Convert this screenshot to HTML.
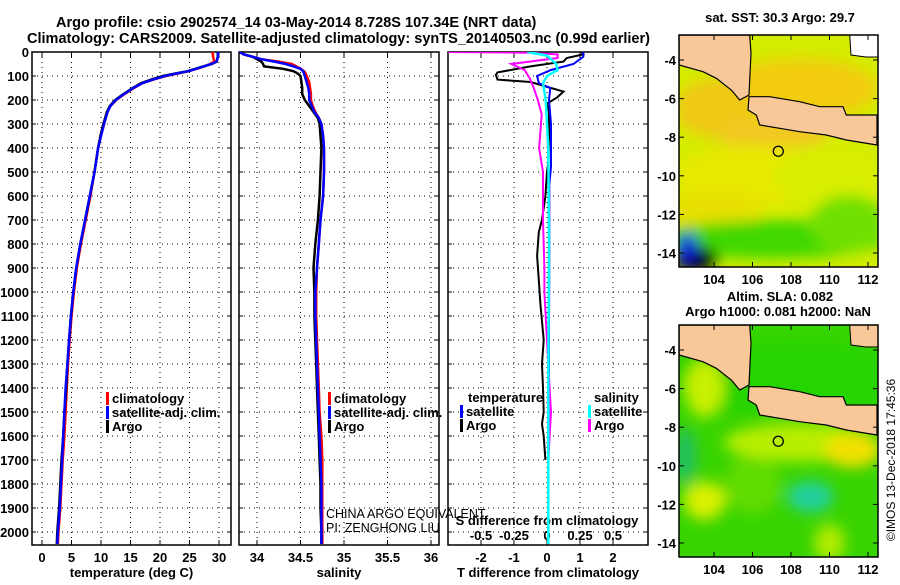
<!DOCTYPE html>
<html><head><meta charset="utf-8">
<style>
html,body{margin:0;padding:0;background:#fff;}
body{width:900px;height:580px;overflow:hidden;font-family:"Liberation Sans",sans-serif;}
svg text{font-family:"Liberation Sans",sans-serif;}
.b{font-weight:bold;}
</style></head>
<body>
<svg id="fig" width="900" height="580" viewBox="0 0 900 580" xmlns="http://www.w3.org/2000/svg">
<defs>
 <filter id="blur1" x="-50%" y="-50%" width="200%" height="200%"><feGaussianBlur stdDeviation="7"/></filter>
 <filter id="blur2" x="-50%" y="-50%" width="200%" height="200%"><feGaussianBlur stdDeviation="10"/></filter>
 <clipPath id="cm1"><rect x="679" y="35" width="199" height="232"/></clipPath>
 <clipPath id="cm2"><rect x="679" y="325" width="199" height="232"/></clipPath>
 <clipPath id="cp1"><rect x="32" y="52" width="199" height="493"/></clipPath>
 <clipPath id="cp2"><rect x="239" y="52" width="200" height="493"/></clipPath>
 <clipPath id="cp3"><rect x="448" y="52" width="200" height="493"/></clipPath>
</defs>
<text class="b" x="56" y="27" font-size="14.5">Argo profile: csio 2902574_14 03-May-2014 8.728S 107.34E (NRT data)</text>
<text class="b" x="27" y="43" font-size="14.5" textLength="623">Climatology: CARS2009. Satellite-adjusted climatology: synTS_20140503.nc (0.99d earlier)</text>
<g id="g1"></g><g id="g2"></g><g id="g3"></g><g id="maps"></g>
</svg>
<script>
// ---------- data ----------
const depthTicks = [0,100,200,300,400,500,600,700,800,900,1000,1100,1200,1300,1400,1500,1600,1700,1800,1900,2000];
const tempTicks = [0,5,10,15,20,25,30];
const salTicks = [34,34.5,35,35.5,36];
const salTickLabels = ["34","34.5","35","35.5","36"];
const tdiffTicks = [-2,-1,0,1,2];
const sdiffTicks = [-0.5,-0.25,0,0.25,0.5];
const sdiffTickLabels = ["-0.5","-0.25","0","0.25","0.5"];

const tempDepth = [0,20,40,50,60,70,80,90,100,115,130,150,175,200,225,250,300,350,400,500,600,700,800,900,1000,1100,1200,1300,1400,1500,1600,1700,1800,1900,2000,2050];
const tempArgo = [29.8,29.8,29.6,28.8,27.3,26,24.7,22.5,20.5,18.5,16.8,15.4,13.8,12.4,11.5,11,10.4,9.9,9.5,8.9,8.1,7.3,6.5,5.8,5.3,4.9,4.6,4.3,4.1,3.8,3.6,3.3,3.1,2.9,2.6,2.5];
const tempClim = [28.9,29,29.2,28.5,27.5,26.2,24.9,22.9,21,18.9,17,15.6,14,12.6,11.6,11.1,10.5,10,9.5,8.9,8.2,7.4,6.6,5.9,5.4,5,4.7,4.4,4.2,4,3.8,3.5,3.3,3.1,2.8,2.7];
const tempSat = [29.9,29.8,29.6,28.7,27.4,26.1,24.8,22.7,20.8,18.8,17,15.5,13.9,12.5,11.6,11.1,10.5,10,9.5,8.9,8.1,7.3,6.5,5.8,5.3,4.9,4.6,4.3,4,3.8,3.6,3.4,3.2,3,2.7,2.6];

const salDepth = [0,10,20,30,40,50,60,70,80,90,100,125,150,175,200,225,250,275,300,350,400,500,600,700,800,900,1000,1100,1200,1300,1400,1500,1600,1700,1800,1900,2000,2050];
const salArgo = [33.8,33.85,33.95,34.0,34.05,34.07,34.08,34.3,34.42,34.47,34.5,34.51,34.52,34.52,34.55,34.6,34.65,34.7,34.72,34.73,34.74,34.73,34.72,34.70,34.67,34.65,34.66,34.66,34.67,34.68,34.69,34.70,34.71,34.72,34.73,34.73,34.74,34.74];
const salClim = [33.8,33.85,33.95,34.05,34.25,34.4,34.45,34.5,34.54,34.56,34.57,34.6,34.61,34.62,34.62,34.64,34.67,34.71,34.74,34.76,34.77,34.77,34.76,34.73,34.71,34.69,34.68,34.68,34.69,34.7,34.71,34.72,34.74,34.75,34.75,34.75,34.75,34.75];
const salSat = [33.8,33.85,33.95,34.05,34.2,34.33,34.42,34.5,34.53,34.54,34.55,34.57,34.59,34.6,34.6,34.63,34.66,34.71,34.74,34.76,34.77,34.77,34.76,34.73,34.71,34.69,34.67,34.67,34.68,34.69,34.7,34.71,34.72,34.73,34.74,34.74,34.74,34.74];

const tArgoDiffDepth = [0,10,25,40,60,85,95,115,125,165,190,215,250,350,450,500,600,700,750,850,950,1050,1200,1300,1400,1500,1550,1600,1700];
const tArgoDiff = [1.05,1.1,0.6,0.5,-0.5,-1.5,-1.55,-1.5,-0.5,0.5,0.3,0,0.06,0.06,0.05,0,-0.05,-0.15,-0.25,-0.3,-0.25,-0.2,-0.1,-0.15,-0.12,-0.1,-0.15,-0.1,-0.05];
const tSatDiffDepth = [0,20,50,75,100,130,150,200,300,480,550,800,1200,1700];
const tSatDiff = [1.1,1.1,0.8,0.12,-0.3,-0.25,0.1,0.06,0.12,0.12,0.07,0.07,0.06,0.05];
const sArgoDiffDepth = [0,3,10,25,50,75,110,150,200,260,400,500,700,900,1000,1200,1400,1500,1600,1700];
const sArgoDiff = [-0.75,-0.14,0.08,0.08,-0.27,-0.17,-0.13,-0.1,-0.07,-0.04,-0.06,-0.03,-0.03,-0.02,-0.02,0,0.02,0.03,0.02,0.01];
const sSatDiffDepth = [0,15,50,75,100,130,200,400,800,1400,2050];
const sSatDiff = [-0.15,0,0.07,0.08,0,-0.03,-0.01,0.01,0.015,0.01,0.01];

const mapLonTicks = [104,106,108,110,112];
const mapLatTicks = [-4,-6,-8,-10,-12,-14];
const argoLon = 107.34, argoLat = -8.728;

// ---------- helpers ----------
const NS = "http://www.w3.org/2000/svg";
function mk(tag, attrs, parent){ const e=document.createElementNS(NS,tag); for(const k in attrs) e.setAttribute(k,attrs[k]); parent.appendChild(e); return e; }
function txt(s, x, y, size, anchor, parent, bold){ const t=mk('text',{x:x,y:y,'font-size':size,'text-anchor':anchor||'start'},parent); if(bold!==false) t.setAttribute('font-weight','bold'); t.textContent=s; return t; }
const TOP=52, BOT=545;
function yD(d){ return TOP + d*0.24; }

function panel(g, x0, x1, xScale, ticks, labels, title, clipId, name){
  // grid
  depthTicks.forEach(d=>{ if(d===0) return;
    const l=mk('line',{x1:x0,x2:x1,y1:yD(d),y2:yD(d),stroke:'#000','stroke-width':1,'stroke-dasharray':'1,4'},g);
     
    mk('line',{x1:x0,x2:x0+4,y1:yD(d),y2:yD(d),stroke:'#000'},g);
    mk('line',{x1:x1-4,x2:x1,y1:yD(d),y2:yD(d),stroke:'#000'},g);
  });
  ticks.forEach((v,i)=>{ const x=xScale(v);
    const l=mk('line',{x1:x,x2:x,y1:TOP,y2:BOT,stroke:'#000','stroke-width':1,'stroke-dasharray':'1,4'},g);
     
    mk('line',{x1:x,x2:x,y1:BOT-5,y2:BOT,stroke:'#000'},g);
    mk('line',{x1:x,x2:x,y1:TOP,y2:TOP+5,stroke:'#000'},g);
    if(labels){ const t=txt(labels[i],x,562,13,'middle',g);
        }
  });
  const r=mk('rect',{x:x0,y:TOP,width:x1-x0,height:BOT-TOP,fill:'none',stroke:'#000','stroke-width':1.5},g);
   
  if(title){ const t=txt(title,(x0+x1)/2,577,13,'middle',g);
      }
}
function series(g, depths, vals, xScale, color, clipId, name, w){
  const pts=depths.map((d,i)=>xScale(vals[i]).toFixed(1)+','+yD(d).toFixed(1)).join(' ');
  const p=mk('polyline',{points:pts,fill:'none',stroke:color,'stroke-width':w||2.5,'clip-path':'url(#'+clipId+')'},g);
   
}
function legend(g, x, y, color, label, name){
  const m=mk('rect',{x:x,y:y-11,width:3,height:13,fill:color},g);
   
  const t=txt(label,x+6,y,13,'start',g);
   
}

// ---------- panel 1: temperature ----------
const g1=document.getElementById('g1');
const xT = v => 42 + v*5.9;
panel(g1,32,231,xT,tempTicks,tempTicks.map(String),'temperature (deg C)','cp1','temperature-panel');
depthTicks.forEach(d=>{ const t=txt(String(d),29,yD(d)+5,13,'end',g1);
    });
series(g1,tempDepth,tempClim,xT,'#ff0000','cp1','temperature-climatology-line');
series(g1,tempDepth,tempArgo,xT,'#000000','cp1','temperature-argo-line');
series(g1,tempDepth,tempSat,xT,'#0000ff','cp1','temperature-satellite-line');
legend(g1,106,403,'#ff0000','climatology','temp-legend-climatology');
legend(g1,106,417,'#0000ff','satellite-adj. clim.','temp-legend-satellite');
legend(g1,106,431,'#000000','Argo','temp-legend-argo');

// ---------- panel 2: salinity ----------
const g2=document.getElementById('g2');
const xS = v => 257 + (v-34)*87;
panel(g2,239,439,xS,salTicks,salTickLabels,'salinity','cp2','salinity-panel');
series(g2,salDepth,salClim,xS,'#ff0000','cp2','salinity-climatology-line');
series(g2,salDepth,salArgo,xS,'#000000','cp2','salinity-argo-line');
series(g2,salDepth,salSat,xS,'#0000ff','cp2','salinity-satellite-line');
legend(g2,328,403,'#ff0000','climatology','sal-legend-climatology');
legend(g2,328,417,'#0000ff','satellite-adj. clim.','sal-legend-satellite');
legend(g2,328,431,'#000000','Argo','sal-legend-argo');
let c1=txt('CHINA ARGO EQUIVALENT',326,518,12.5,'start',g2,false);
 
let c2=txt('PI: ZENGHONG LIU',326,532,12.5,'start',g2,false);
 

// ---------- panel 3: differences ----------
const g3=document.getElementById('g3');
const xTD = v => 547 + v*33;
const xSD = v => 547 + v*132;
panel(g3,448,648,xTD,tdiffTicks,tdiffTicks.map(String),'T difference from climatology','cp3','difference-panel');
sdiffTicks.forEach((v,i)=>{ const x=xSD(v);
  mk('line',{x1:x,x2:x,y1:BOT-5,y2:BOT,stroke:'#000'},g3);
  const t=txt(sdiffTickLabels[i],x,540,13,'middle',g3);
    });
let st=txt('S difference from climatology',547,525,13,'middle',g3);
 
series(g3,tArgoDiffDepth,tArgoDiff,xTD,'#000000','cp3','t-diff-argo-line',2);
series(g3,tSatDiffDepth,tSatDiff,xTD,'#0000ff','cp3','t-diff-satellite-line',2);
series(g3,sArgoDiffDepth,sArgoDiff,xSD,'#ff00ff','cp3','s-diff-argo-line',2);
series(g3,sSatDiffDepth,sSatDiff,xSD,'#00ffff','cp3','s-diff-satellite-line',2.5);
let lt=txt('temperature',468,402,13,'start',g3);  
legend(g3,460,416,'#0000ff','satellite','diff-legend-t-satellite');
legend(g3,460,430,'#000000','Argo','diff-legend-t-argo');
let ls=txt('salinity',594,402,13,'start',g3);  
legend(g3,588,416,'#00ffff','satellite','diff-legend-s-satellite');
legend(g3,588,430,'#ff00ff','Argo','diff-legend-s-argo');

// ---------- maps ----------
const gm=document.getElementById('maps');
const lonX = lon => 714 + (lon-104)*19.25;
const latY = (lat,off) => off + 60 + (-4-lat)*19.3;
const sumatra=[[0,0],[70.7,0],[72,18.3],[70,60],[60.7,65],[52.3,55],[37.3,43.3],[24,36.7],[0,30]];
const java=[[70,61.7],[90.7,61.7],[120.7,66.7],[140.7,71.7],[164,71.7],[167.3,80],[198,80],[198,110],[167.3,105],[147.3,100],[120.7,96.7],[100.7,93.3],[80.7,90],[77.3,80],[69,75]];
const borneo=[[170.7,0],[199,0],[199,22],[187,22],[172,20]];
function poly(arr,off){ return arr.map(p=>(679+p[0])+','+(35+off+p[1])).join(' '); }

function drawMap(off, clip, blobs, base, name, borneoFill){
  const g=mk('g',{'clip-path':'url(#'+clip+')'},gm);
   
  mk('rect',{x:679,y:35+off,width:199,height:232,fill:base},g);
  const bg=mk('g',{filter:'url(#blur1)'},g);
  blobs.forEach(b=>{ mk('ellipse',{cx:lonX(b[0]),cy:latY(b[1],off),rx:b[2]*19.25,ry:b[3]*19.3,fill:b[4]},bg); });
  [['sumatra',sumatra],['java',java]].forEach(a=>{
    const p=mk('polygon',{points:poly(a[1],off),fill:'#f9c898',stroke:'#000','stroke-width':1.2},g);
     
  });
  mk('polygon',{points:poly(borneo,off),fill:borneoFill,stroke:'#000','stroke-width':1},g);
  const c=mk('circle',{cx:lonX(argoLon),cy:latY(argoLat,off),r:5,fill:'none',stroke:'#000','stroke-width':1.3},g);
   
  const f=mk('rect',{x:679,y:35+off,width:199,height:232,fill:'none',stroke:'#000','stroke-width':1.5},gm);
   
  mapLonTicks.forEach(v=>{ const x=lonX(v);
    mk('line',{x1:x,x2:x,y1:267+off,y2:262+off,stroke:'#000'},gm);
    mk('line',{x1:x,x2:x,y1:35+off,y2:40+off,stroke:'#000'},gm);
    const t=txt(String(v),x,284+off,13,'middle',gm);   });
  mapLatTicks.forEach(v=>{ const y=latY(v,off);
    mk('line',{x1:679,x2:684,y1:y,y2:y,stroke:'#000'},gm);
    mk('line',{x1:873,x2:878,y1:y,y2:y,stroke:'#000'},gm);
    const t=txt(String(v),676,y+5,13,'end',gm);   });
}
// blobs: lon, lat, rx(deg), ry(deg), color
drawMap(0,'cm1',[
  [108.5,-5.5,4,1.6,'#f2cc10'],[104,-6.5,2,1.5,'#f0c818'],[107,-7.8,3,0.8,'#f2c820'],
  [106,-10,4,1.6,'#e8e800'],[110,-10,3,1.5,'#d8ee00'],[104,-11.8,2.5,1,'#e8e000'],
  [107,-13.3,6,1,'#40d800'],[111,-12.5,2,1.5,'#70e000'],[103,-14.3,1.2,0.7,'#000000'],[102.6,-13.7,0.5,0.8,'#1010e0']
],'#d4ec00','sst-map','#ffffff');
drawMap(290,'cm2',[
  [108,-5.5,6,2,'#28d400'],[103.5,-6,1,1.5,'#c8f000'],[108.5,-8.8,4,1,'#b8ee00'],[111.2,-9.2,1.5,0.9,'#f0e000'],
  [103.5,-11.8,1.1,1,'#d8f000'],[109,-11.6,1.2,0.8,'#20d0a0'],[102.5,-9.5,0.6,1.5,'#20c060'],
  [110,-14,0.8,1,'#b0ec00'],[106,-11,1.5,1.5,'#60dc00']
],'#38d400','sla-map','#f9c898');
let m1=txt('sat. SST: 30.3 Argo: 29.7',780,22,13,'middle',gm);  
let m2=txt('Altim. SLA: 0.082',780,301,13,'middle',gm);  
let m3=txt('Argo h1000: 0.081 h2000: NaN',778,316,13,'middle',gm);  
let cr=txt('©IMOS 13-Dec-2018 17:45:36',0,0,12,'middle',gm,false);
cr.setAttribute('transform','translate(895,460) rotate(-90)');
 
</script>
</body></html>
